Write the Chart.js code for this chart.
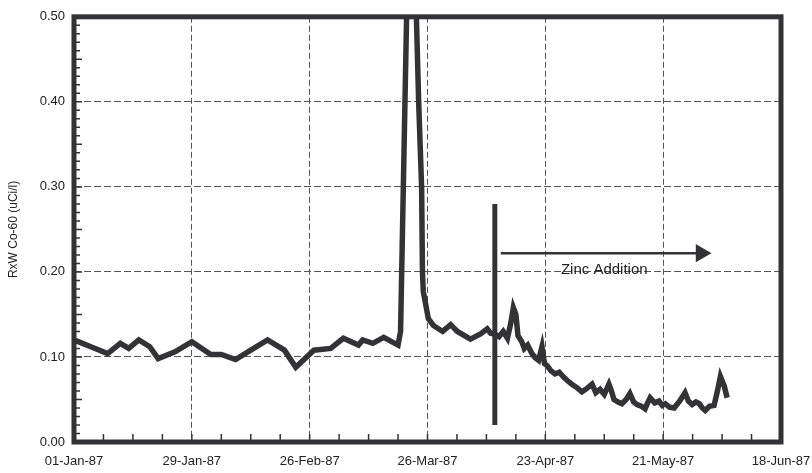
<!DOCTYPE html>
<html>
<head>
<meta charset="utf-8">
<script src="https://cdn.jsdelivr.net/npm/chart.js@4"></script>
<style>
  html, body { margin: 0; padding: 0; background: #fff; }
  #wrap { width: 812px; height: 473px; }
</style>
</head>
<body>
<div id="wrap"><canvas id="myChart" width="812" height="473"></canvas></div>
<script>
// x axis: days since 01-Jan-87
const tickDays = [0, 28, 56, 84, 112, 140, 168];
const tickLabels = ['01-Jan-87', '29-Jan-87', '26-Feb-87', '26-Mar-87', '23-Apr-87', '21-May-87', '18-Jun-87'];
const yTicks = [0, 0.1, 0.2, 0.3, 0.4, 0.5];

// RxW Co-60 readings
const days = [
    0, 1, 4, 8, 11, 13, 15.4, 18, 20, 24, 28, 32.5, 35, 38.4, 42, 46, 50, 52.7, 57, 61,
    64, 67.6, 68.6, 71, 73.6, 77, 77.6, 80, 81.9, 82.6, 82.8, 83, 84.2, 85.4, 87.6, 89.5,
    91.1, 94.2, 96.6, 98.2, 99, 100, 101, 102, 103, 103.8, 104.4, 105, 105.5, 106.4, 107,
    107.8, 108.8, 109.6, 110.4, 111.2, 111.8, 112.4, 113.3, 114.3, 115.3, 116.4, 117.3,
    118.3, 119.5, 120.7, 121.9, 123.1, 124, 125, 126, 127.1, 127.7, 128.3, 129.3, 130.2,
    131.2, 132.1, 133, 133.8, 134.8, 135.7, 136.3, 136.9, 138, 139, 139.8, 140.5, 141.5,
    142.6, 143.9, 145.2, 146, 146.9, 147.8, 148.6, 149.3, 150, 151, 152.1, 152.9, 153.6,
    154.5, 155.2
];
const co60 = [
    0.120, 0.118, 0.112, 0.104, 0.116, 0.110, 0.120, 0.112, 0.098, 0.106, 0.118, 0.103, 0.103, 0.097, 0.108, 0.120, 0.108, 0.088, 0.108, 0.110,
    0.122, 0.114, 0.120, 0.116, 0.123, 0.114, 0.130, 0.750, 0.400, 0.300, 0.200, 0.177, 0.145, 0.137, 0.130, 0.138,
    0.130, 0.121, 0.127, 0.133, 0.128, 0.127, 0.124, 0.130, 0.122, 0.140, 0.158, 0.150, 0.125, 0.118, 0.110,
    0.114, 0.104, 0.099, 0.096, 0.112, 0.092, 0.090, 0.084, 0.080, 0.082, 0.076, 0.072,
    0.068, 0.064, 0.059, 0.063, 0.068, 0.058, 0.062, 0.056, 0.068, 0.060, 0.050, 0.047, 0.045,
    0.050, 0.057, 0.047, 0.044, 0.042, 0.039, 0.046, 0.052, 0.046, 0.048, 0.043, 0.045, 0.041,
    0.040, 0.048, 0.058, 0.048, 0.044, 0.047, 0.045, 0.040, 0.037, 0.042, 0.043, 0.060, 0.077,
    0.066, 0.052
];

// zinc addition marker and arrow
const zincDays = [100, 100];
const zincVals = [0.28, 0.02];
const arrowDays = [101.4, 149];
const arrowVals = [0.222, 0.222];
const noteDay = 126;
const noteVal = 0.203;
const noteText = 'Zinc Addition';

const ink = '#333336';
const font = "'Liberation Sans', Arial, sans-serif";

function pairs(xs, ys) {
    return xs.map((x, i) => ({ x: x, y: ys[i] }));
}

// frame, minor ticks and the note
const extras = {
    id: 'extras',
    afterDatasetsDraw(chart) {
        const ctx = chart.ctx;
        const a = chart.chartArea;
        const xs = chart.scales.x;
        const ys = chart.scales.y;
        ctx.save();
        ctx.strokeStyle = ink;
        ctx.lineWidth = 1.5;
        ctx.beginPath();
        for (let i = 1; i < 50; i++) {
            const y = ys.getPixelForValue(i / 100);
            ctx.moveTo(a.left, y);
            ctx.lineTo(a.left + (i % 5 === 0 ? 8 : 6), y);
        }
        for (let d = 7; d < 168; d += 7) {
            const x = xs.getPixelForValue(d);
            ctx.moveTo(x, a.bottom);
            ctx.lineTo(x, a.bottom - 8);
        }
        ctx.stroke();
        ctx.lineWidth = 5;
        ctx.strokeRect(a.left, a.top, a.right - a.left, a.bottom - a.top);

        ctx.fillStyle = '#222';
        ctx.font = '15px ' + font;
        ctx.textAlign = 'center';
        ctx.textBaseline = 'middle';
        ctx.fillText(noteText, xs.getPixelForValue(noteDay), ys.getPixelForValue(noteVal));
        ctx.restore();
    }
};

const ctx = document.getElementById('myChart').getContext('2d');
window.myChart = new Chart(ctx, {
    type: 'line',
    data: {
        datasets: [
            {
                label: 'Co-60',
                data: pairs(days, co60),
                borderColor: ink,
                borderWidth: 5.5,
                pointRadius: 0,
                tension: 0,
                clip: 0
            },
            {
                label: 'zinc start',
                data: pairs(zincDays, zincVals),
                borderColor: ink,
                borderWidth: 5,
                pointRadius: 0
            },
            {
                label: 'zinc arrow',
                data: pairs(arrowDays, arrowVals),
                borderColor: ink,
                backgroundColor: ink,
                borderWidth: 2.5,
                pointStyle: 'triangle',
                rotation: 90,
                pointRadius: [0, 8]
            }
        ]
    },
    options: {
        responsive: false,
        animation: false,
        layout: { padding: { left: 0, right: 0, top: 15, bottom: 0 } },
        plugins: {
            legend: { display: false },
            tooltip: { enabled: false }
        },
        scales: {
            x: {
                type: 'linear',
                min: 0,
                max: 168,
                afterBuildTicks: scale => { scale.ticks = tickDays.map(v => ({ value: v })); },
                afterFit: scale => {
                    scale.height = 31;
                    scale.paddingLeft = 0;
                    scale.paddingRight = 31;
                },
                ticks: {
                    callback: (v) => tickLabels[tickDays.indexOf(v)],
                    color: '#222',
                    font: { family: font, size: 13 },
                    padding: 12,
                    maxRotation: 0,
                    autoSkip: false
                },
                grid: { color: '#555', lineWidth: 1, drawTicks: false },
                border: { display: false, dash: [6, 3] }
            },
            y: {
                min: 0,
                max: 0.5,
                afterBuildTicks: scale => { scale.ticks = yTicks.map(v => ({ value: v })); },
                afterFit: scale => { scale.width = 74; },
                ticks: {
                    callback: v => v.toFixed(2),
                    color: '#222',
                    font: { family: font, size: 13 },
                    padding: 9
                },
                grid: { color: '#555', lineWidth: 1, drawTicks: false },
                border: { display: false, dash: [7, 3] },
                title: {
                    display: true,
                    text: 'RxW Co-60 (uCi/l)',
                    color: '#222',
                    font: { family: font, size: 12 },
                    padding: { top: 6, bottom: 0 }
                }
            }
        }
    },
    plugins: [extras]
});
</script>
</body>
</html>
